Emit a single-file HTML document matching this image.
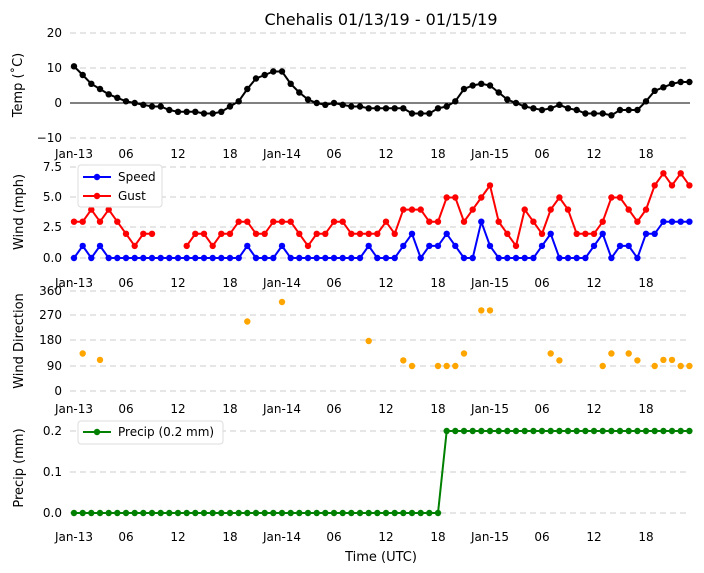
<!DOCTYPE html>
<html><head><meta charset="utf-8"><style>
html,body{margin:0;padding:0;background:#fff;}
svg{display:block;font-family:"DejaVu Sans","Liberation Sans",sans-serif;}
</style></head><body>
<svg id="s" width="704" height="573" viewBox="0 0 704 573" xmlns="http://www.w3.org/2000/svg"></svg>
<script>
const s=document.getElementById('s');let h='';
const X=i=>74+8.667*i;
h+='<text x="381" y="25" font-size="16" text-anchor="middle">Chehalis 01/13/19 - 01/15/19</text>';
function grid(ys){ys.forEach(y=>h+=`<line x1="70" x2="690" y1="${y}" y2="${y}" stroke="#ccc" stroke-dasharray="6,4"/>`);}
function yt(list){list.forEach(([y,t])=>h+=`<text x="62" y="${y+4}" font-size="12" text-anchor="end">${t}</text>`);}
function xt(y){const L=[[0,'Jan-13'],[6,'06'],[12,'12'],[18,'18'],[24,'Jan-14'],[30,'06'],[36,'12'],[42,'18'],[48,'Jan-15'],[54,'06'],[60,'12'],[66,'18']];
L.forEach(([i,t])=>h+=`<text x="${X(i)}" y="${y}" font-size="12" text-anchor="middle">${t}</text>`);}
function ylab(x,y,t){h+=`<text x="${x}" y="${y}" font-size="13" text-anchor="middle" transform="rotate(-90 ${x} ${y})">${t}</text>`;}
function series(vals,yf,col,line){let seg=[];let pts='';
vals.forEach((v,i)=>{if(v===null){if(seg.length>1&&line)h+=`<polyline points="${seg.join(' ')}" fill="none" stroke="${col}" stroke-width="2"/>`;seg=[];return;}
const p=X(i).toFixed(1)+','+yf(v).toFixed(1);seg.push(p);pts+=`<circle cx="${X(i).toFixed(1)}" cy="${yf(v).toFixed(1)}" r="3.2" fill="${col}"/>`;});
if(seg.length>1&&line)h+=`<polyline points="${seg.join(' ')}" fill="none" stroke="${col}" stroke-width="2"/>`;h+=pts;}
grid([33,68,138]);h+='<line x1="70" x2="690" y1="103" y2="103" stroke="#000" stroke-width="1"/>';
yt([[33,'20'],[68,'10'],[103,'0'],[138,'−10']]);xt(158);ylab(22,85,'Temp (˚C)');
const T=[10.5,8,5.5,4,2.5,1.5,0.5,0,-0.5,-1,-1,-2,-2.5,-2.5,-2.5,-3,-3,-2.5,-1,0.5,4,7,8,9,9,5.5,3,1,0,-0.5,0,-0.5,-1,-1,-1.5,-1.5,-1.5,-1.5,-1.5,-3,-3,-3,-1.5,-1,0.5,4,5,5.5,5,3,1,0,-1,-1.5,-2,-1.5,-0.5,-1.5,-2,-3,-3,-3,-3.5,-2,-2,-2,0.5,3.5,4.5,5.5,6,6];
series(T,v=>103-3.5*v,'#000',true);
grid([167,197,227,258]);yt([[167,'7.5'],[197,'5.0'],[227,'2.5'],[258,'0.0']]);xt(287);ylab(23,212,'Wind (mph)');
const S=[0,1,0,1,0,0,0,0,0,0,0,0,0,0,0,0,0,0,0,0,1,0,0,0,1,0,0,0,0,0,0,0,0,0,1,0,0,0,1,2,0,1,1,2,1,0,0,3,1,0,0,0,0,0,1,2,0,0,0,0,1,2,0,1,1,0,2,2,3,3,3,3];
const G=[3,3,4,3,4,3,2,1,2,2,null,null,null,1,2,2,1,2,2,3,3,2,2,3,3,3,2,1,2,2,3,3,2,2,2,2,3,2,4,4,4,3,3,5,5,3,4,5,6,3,2,1,4,3,2,4,5,4,2,2,2,3,5,5,4,3,4,6,7,6,7,6];
const wy=v=>258-12.1*v;
series(S,wy,'#0000ff',true);series(G,wy,'#ff0000',true);
h+='<rect x="78" y="165" width="84" height="42" rx="3" fill="#fff" stroke="#ddd"/>';
h+='<line x1="83" x2="111" y1="177" y2="177" stroke="#0000ff" stroke-width="2"/><circle cx="97" cy="177" r="3.2" fill="#0000ff"/><text x="118" y="181" font-size="12">Speed</text>';
h+='<line x1="83" x2="111" y1="196" y2="196" stroke="#ff0000" stroke-width="2"/><circle cx="97" cy="196" r="3.2" fill="#ff0000"/><text x="118" y="200" font-size="12">Gust</text>';
grid([291,315,340,366,391]);yt([[291,'360'],[315,'270'],[340,'180'],[366,'90'],[391,'0']]);xt(413);ylab(23,341,'Wind Direction');
const D={1:135,3:112,20:250,24:320,34:180,38:110,39:90,42:90,43:90,44:90,45:135,47:290,48:290,55:135,56:110,61:90,62:135,64:135,65:110,67:90,68:112,69:112,70:90,71:90};
for(const k in D)h+=`<circle cx="${X(+k).toFixed(1)}" cy="${(391-0.278*D[k]).toFixed(1)}" r="3.2" fill="#ffa500"/>`;
grid([431,472,513]);yt([[431,'0.2'],[472,'0.1'],[513,'0.0']]);xt(541);ylab(23,468,'Precip (mm)');
const P=[];for(let i=0;i<72;i++)P.push(i<43?0:0.2);
series(P,v=>513-410*v,'#008000',true);
h+='<rect x="78" y="421" width="145" height="23" rx="3" fill="#fff" stroke="#ddd"/>';
h+='<line x1="83" x2="111" y1="432" y2="432" stroke="#008000" stroke-width="2"/><circle cx="97" cy="432" r="3.2" fill="#008000"/><text x="118" y="436" font-size="12">Precip (0.2 mm)</text>';
h+='<text x="381" y="561" font-size="13" text-anchor="middle">Time (UTC)</text>';
s.innerHTML=h;
</script>
</body></html>
